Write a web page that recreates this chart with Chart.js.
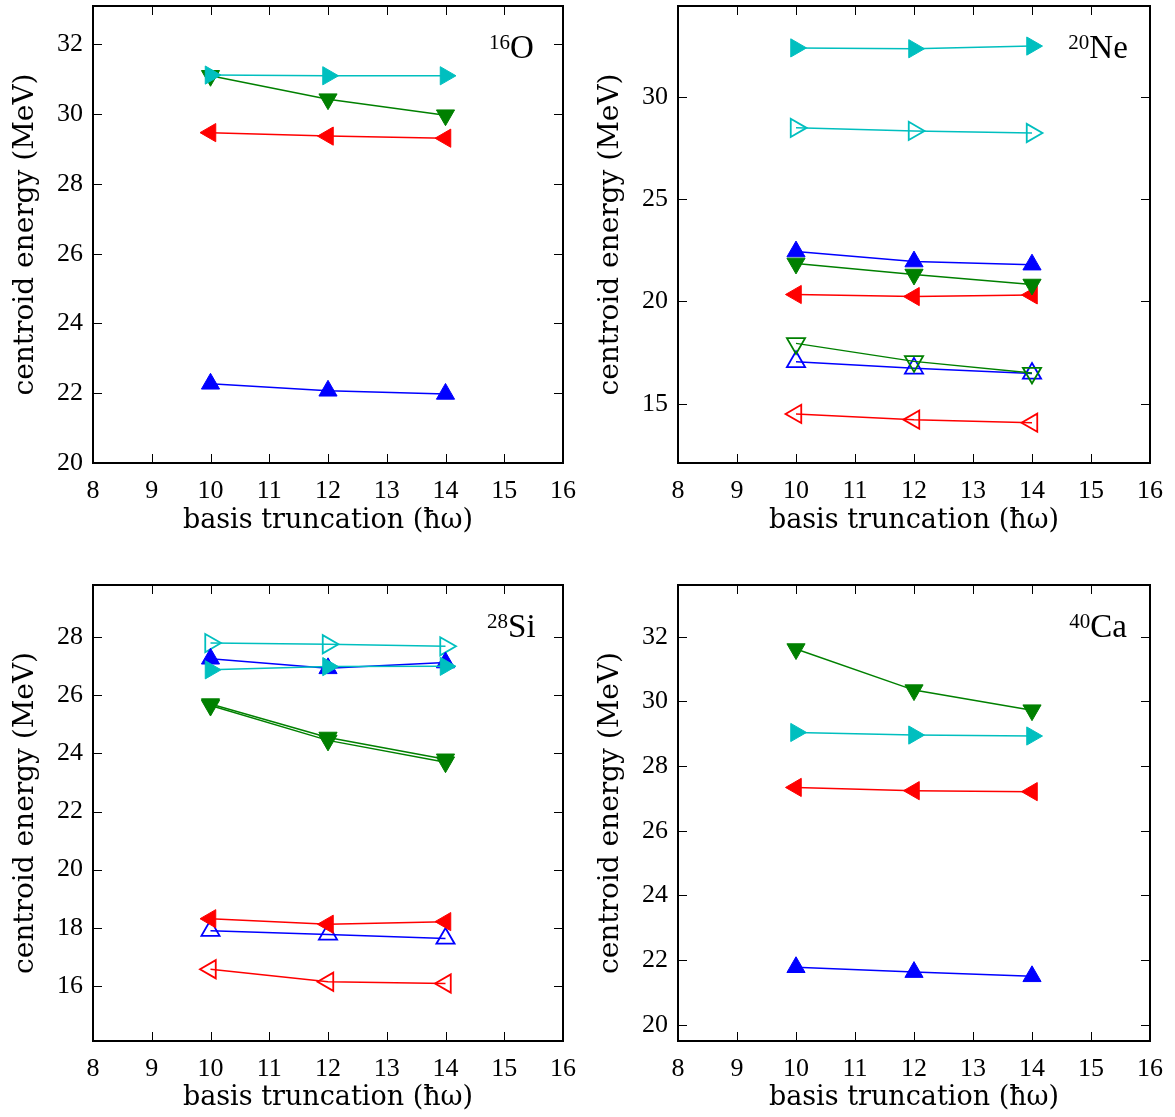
<!DOCTYPE html>
<html>
<head>
<meta charset="utf-8">
<script src="https://cdn.jsdelivr.net/npm/chart.js@4.4.0/dist/chart.umd.min.js"></script>
<style>
  body { margin: 0; background: #fff; }
  .panel { position: absolute; }
</style>
</head>
<body>
<div class="panel" id="p1" style="left:0px;top:0px;width:585px;height:540px"><canvas id="c1"></canvas></div>
<div class="panel" id="p2" style="left:585px;top:0px;width:590px;height:540px"><canvas id="c2"></canvas></div>
<div class="panel" id="p3" style="left:0px;top:575px;width:585px;height:542px"><canvas id="c3"></canvas></div>
<div class="panel" id="p4" style="left:585px;top:575px;width:590px;height:542px"><canvas id="c4"></canvas></div>
<script>
// basis truncation (hbar omega)
var nmax = [10, 12, 14];

// 16O
var o16_red = [29.47, 29.37, 29.31];
var o16_blue = [22.27, 22.07, 21.98];
var o16_green = [31.1, 30.43, 29.97];
var o16_cyan = [31.12, 31.1, 31.1];

// 20Ne
var ne20_redOpen = [14.5, 14.22, 14.07];
var ne20_blueOpen = [17.05, 16.73, 16.48];
var ne20_greenOpen = [17.95, 17.07, 16.5];
var ne20_cyanOpen = [28.49, 28.34, 28.24];
var ne20_red = [20.34, 20.24, 20.32];
var ne20_blue = [22.44, 21.95, 21.8];
var ne20_green = [21.86, 21.32, 20.83];
var ne20_cyan = [32.4, 32.36, 32.49];

// 28Si
var si28_redOpen = [16.57, 16.14, 16.08];
var si28_blueOpen = [17.9, 17.77, 17.63];
var si28_cyanOpen = [27.8, 27.76, 27.69];
var si28_red = [18.31, 18.12, 18.21];
var si28_blue = [27.26, 26.93, 27.13];
var si28_green2 = [25.65, 24.45, 23.7];
var si28_green = [25.7, 24.55, 23.8];
var si28_cyan = [26.88, 26.99, 27.0];

// 40Ca
var ca40_red = [27.34, 27.24, 27.21];
var ca40_blue = [21.78, 21.63, 21.5];
var ca40_green = [31.62, 30.35, 29.73];
var ca40_cyan = [29.04, 28.96, 28.93];

var RED = '#ff0000', BLUE = '#0000ff', GREEN = '#008000', CYAN = '#00bfbf';
var FONT = '"Liberation Serif", serif';
var TFONT = '"DejaVu Serif", serif';

function pts(vals) {
    return vals.map(function(v, i) { return {x: nmax[i], y: v}; });
}

// marker: 'up','down','left','right'
function series(vals, color, marker, open) {
    var rot = {up: 0, right: 90, down: 180, left: 270}[marker];
    return {
        data: pts(vals),
        borderColor: color,
        borderWidth: 1.5,
        pointStyle: 'triangle',
        pointRotation: rot,
        pointRadius: 10.5,
        pointHoverRadius: 10.5,
        pointBackgroundColor: open ? 'rgba(0,0,0,0)' : color,
        pointBorderColor: color,
        pointBorderWidth: open ? 1.8 : 1,
        fill: false,
        tension: 0
    };
}

// frame with inward ticks on all four sides, plus the nucleus label
var framePlugin = {
    id: 'frame',
    afterDatasetsDraw: function(chart, args, opts) {
        var ctx = chart.ctx, a = chart.chartArea;
        var xs = chart.scales.x, ys = chart.scales.y;
        ctx.save();
        ctx.strokeStyle = '#000';
        ctx.lineWidth = 1;
        xs.ticks.forEach(function(t) {
            var px = Math.round(xs.getPixelForValue(t.value)) + 0.5;
            ctx.beginPath();
            ctx.moveTo(px, a.bottom); ctx.lineTo(px, a.bottom - 9);
            ctx.moveTo(px, a.top); ctx.lineTo(px, a.top + 9);
            ctx.stroke();
        });
        ys.ticks.forEach(function(t) {
            var py = Math.round(ys.getPixelForValue(t.value)) + 0.5;
            ctx.beginPath();
            ctx.moveTo(a.left, py); ctx.lineTo(a.left + 9, py);
            ctx.moveTo(a.right, py); ctx.lineTo(a.right - 9, py);
            ctx.stroke();
        });
        ctx.lineWidth = 2;
        ctx.strokeRect(a.left, a.top, a.right - a.left, a.bottom - a.top);

        // nucleus label with superscript mass number
        var cx = a.left + 0.89 * (a.right - a.left);
        var cy = a.top + 52;
        ctx.fillStyle = '#000';
        ctx.textBaseline = 'alphabetic';
        ctx.font = '21px ' + FONT;
        var w1 = ctx.measureText(opts.mass).width;
        ctx.font = '33px ' + FONT;
        var w2 = ctx.measureText(opts.sym).width;
        var x0 = cx - (w1 + w2) / 2;
        ctx.font = '21px ' + FONT;
        ctx.textAlign = 'left';
        ctx.fillText(opts.mass, x0, cy - 9);
        ctx.font = '33px ' + FONT;
        ctx.fillText(opts.sym, x0 + w1, cy);
        ctx.restore();
    }
};

function makeChart(id, datasets, ymin, ymax, ystep, mass, sym, pad, xh) {
    var ctx = document.getElementById(id).getContext('2d');
    return new Chart(ctx, {
        type: 'line',
        data: { datasets: datasets },
        options: {
            responsive: true,
            maintainAspectRatio: false,
            animation: false,
            events: [],
            layout: { padding: pad, autoPadding: false },
            plugins: {
                legend: { display: false },
                tooltip: { enabled: false },
                frame: { mass: mass, sym: sym }
            },
            scales: {
                x: {
                    type: 'linear',
                    min: 8, max: 16,
                    grid: { display: false, drawTicks: false },
                    border: { display: false },
                    ticks: { stepSize: 1, includeBounds: false, color: '#000', padding: 13,
                             font: { family: FONT, size: 26 }, maxRotation: 0 },
                    title: { display: true, text: 'basis truncation (\u0127\u03c9)', color: '#000',
                             font: { family: TFONT, size: 27 }, padding: { top: 0, bottom: 3 } },
                    afterFit: function(s) { s.height = xh; s.paddingLeft = 0; s.paddingRight = 0; }
                },
                y: {
                    type: 'linear',
                    min: ymin, max: ymax,
                    grid: { display: false, drawTicks: false },
                    border: { display: false },
                    ticks: { stepSize: ystep, includeBounds: false, color: '#000', padding: 10,
                             font: { family: FONT, size: 26, lineHeight: 0.3 } },
                    title: { display: true, text: 'centroid energy (MeV)', color: '#000',
                             font: { family: TFONT, size: 28 }, padding: { top: 9, bottom: 0 } },
                    afterFit: function(s) { s.width = 93; s.paddingTop = 0; s.paddingBottom = 0; }
                }
            }
        },
        plugins: [framePlugin]
    });
}

makeChart('c1', [
    series(o16_red, RED, 'left', false),
    series(o16_blue, BLUE, 'up', false),
    series(o16_green, GREEN, 'down', false),
    series(o16_cyan, CYAN, 'right', false)
].reverse(), 20, 33.1, 2, '16', 'O', {top: 6, right: 22, left: 0, bottom: 0}, 77);

makeChart('c2', [
    series(ne20_redOpen, RED, 'left', true),
    series(ne20_blueOpen, BLUE, 'up', true),
    series(ne20_greenOpen, GREEN, 'down', true),
    series(ne20_cyanOpen, CYAN, 'right', true),
    series(ne20_red, RED, 'left', false),
    series(ne20_blue, BLUE, 'up', false),
    series(ne20_green, GREEN, 'down', false),
    series(ne20_cyan, CYAN, 'right', false)
].reverse(), 12.1, 34.45, 5, '20', 'Ne', {top: 6, right: 25, left: 0, bottom: 0}, 77);

makeChart('c3', [
    series(si28_redOpen, RED, 'left', true),
    series(si28_blueOpen, BLUE, 'up', true),
    series(si28_green2, GREEN, 'down', false),
    series(si28_cyanOpen, CYAN, 'right', true),
    series(si28_red, RED, 'left', false),
    series(si28_blue, BLUE, 'up', false),
    series(si28_green, GREEN, 'down', false),
    series(si28_cyan, CYAN, 'right', false)
].reverse(), 14.1, 29.8, 2, '28', 'Si', {top: 10, right: 22, left: 0, bottom: 0}, 76);

makeChart('c4', [
    series(ca40_red, RED, 'left', false),
    series(ca40_blue, BLUE, 'up', false),
    series(ca40_green, GREEN, 'down', false),
    series(ca40_cyan, CYAN, 'right', false)
].reverse(), 19.5, 33.6, 2, '40', 'Ca', {top: 10, right: 25, left: 0, bottom: 0}, 76);
</script>
</body>
</html>
